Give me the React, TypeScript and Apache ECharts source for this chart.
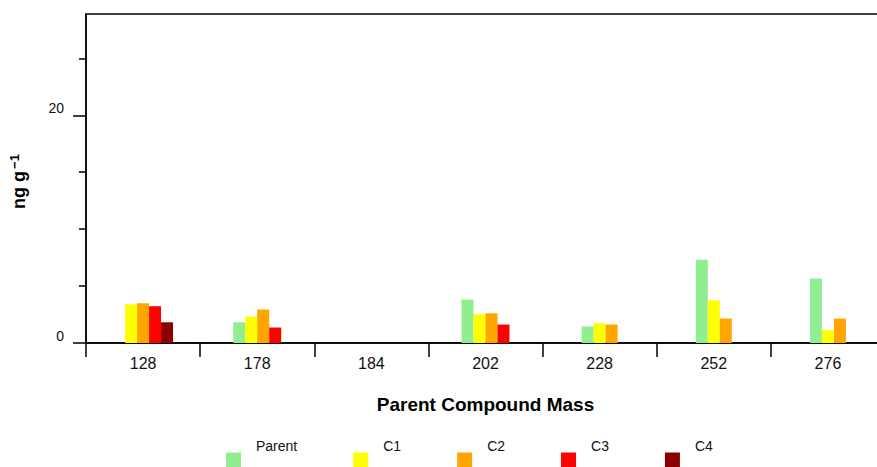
import React, { useEffect, useRef } from "react";
import * as echarts from "echarts";

const categories = ["128", "178", "184", "202", "228", "252", "276"];
const seriesNames = ["Parent", "C1", "C2", "C3", "C4"];
const parentValues = [0, 1.82, null, 3.82, 1.45, 7.32, 5.66];
const c1Values = [3.4, 2.32, null, 2.53, 1.74, 3.75, 1.12];
const c2Values = [3.49, 2.94, null, 2.61, 1.62, 2.15, 2.15];
const c3Values = [3.23, 1.36, null, 1.62, null, null, null];
const c4Values = [1.82, null, null, null, null, null, null];
const colors = ["#90ee90", "#ffff00", "#ffa500", "#ff0000", "#8b0000"];
const majorTicks = [0, 20];
const minorTicks = [5, 10, 15, 25];

const FONT = "Liberation Sans, Arial, Helvetica, sans-serif";

export default function App() {
  const ref = useRef<HTMLDivElement>(null);
  useEffect(() => {
    if (!ref.current) return;
    const chart = echarts.init(ref.current, undefined, { renderer: "svg" });
    const all = [parentValues, c1Values, c2Values, c3Values, c4Values];
    const counts = categories.map((_, ci) => all.filter((s) => s[ci] !== null).length);
    const series = all.map((vals, si) => ({
      type: "custom",
      name: seriesNames[si],
      itemStyle: { color: colors[si] },
      encode: { x: 0, y: 1 },
      data: vals
        .map((v, ci) => {
          if (v === null) return null;
          const slot = all.slice(0, si).filter((s) => s[ci] !== null).length;
          return [ci, v, slot, counts[ci]];
        })
        .filter((d) => d !== null),
      renderItem: (params: any, api: any) => {
        const cat = api.value(0);
        const val = api.value(1);
        const slot = api.value(2);
        const n = api.value(3);
        const top = api.coord([cat, val]);
        const base = api.coord([cat, 0]);
        const bw = api.size([1, 0])[0] * 0.105;
        const x = base[0] - (n * bw) / 2 + slot * bw;
        return {
          type: "rect",
          shape: { x, y: top[1], width: bw, height: base[1] - top[1] },
          style: api.style(),
        };
      },
    }));
    chart.setOption({
      animation: false,
      backgroundColor: "#fff",
      textStyle: { fontFamily: FONT },
      grid: {
        left: 85,
        top: 14,
        width: 800,
        height: 329,
        show: true,
        borderColor: "#000",
        borderWidth: 1.5,
      },
      legend: {
        data: seriesNames,
        icon: "rect",
        left: 226,
        top: 432,
        padding: 0,
        itemWidth: 15,
        itemHeight: 15,
        itemGap: 56,
        formatter: (name: string) => name + "\n ",
        textStyle: {
          fontFamily: FONT,
          fontSize: 14,
          lineHeight: 28,
          color: "#111",
          padding: [0, 0, 0, 10],
        },
      },
      xAxis: {
        type: "category",
        data: categories,
        boundaryGap: true,
        name: "Parent Compound Mass",
        nameLocation: "middle",
        nameGap: 52,
        nameTextStyle: { fontFamily: FONT, fontSize: 19, fontWeight: "bold", color: "#000" },
        axisLine: { show: true, lineStyle: { color: "#000", width: 1.5 } },
        axisTick: { show: true, length: 14, alignWithLabel: false, lineStyle: { color: "#000", width: 1.5 } },
        axisLabel: { fontFamily: FONT, fontSize: 16, color: "#111", margin: 12 },
        splitLine: { show: false },
      },
      yAxis: [
        {
          type: "value",
          min: 0,
          max: 28.9,
          name: "ng g{sup|\u22121}",
          nameLocation: "middle",
          nameGap: 56,
          nameTextStyle: {
            fontFamily: FONT,
            fontSize: 18,
            fontWeight: "bold",
            color: "#000",
            padding: [0, 6, 0, 0],
            rich: {
              sup: { fontFamily: FONT, fontSize: 13, fontWeight: "bold", color: "#000", padding: [0, 0, 9, 2] },
            },
          },
          axisLine: { show: true, lineStyle: { color: "#000", width: 1.5 } },
          axisTick: { show: true, length: 13, customValues: majorTicks, lineStyle: { color: "#000", width: 1.5 } },
          axisLabel: { fontFamily: FONT, fontSize: 14, color: "#111", margin: 22, customValues: majorTicks, verticalAlign: "bottom" },
          splitLine: { show: false },
        },
        {
          type: "value",
          min: 0,
          max: 28.9,
          position: "left",
          axisLine: { show: false },
          axisTick: { show: true, length: 7, customValues: minorTicks, lineStyle: { color: "#000", width: 1.5 } },
          axisLabel: { show: false },
          splitLine: { show: false },
        },
      ],
      series,
    });
    return () => chart.dispose();
  }, []);
  return (
    <div style={{ position: "fixed", left: 0, top: 0, width: 877, height: 467, overflow: "hidden", background: "#fff" }}>
      <div ref={ref} style={{ position: "absolute", left: 0, top: 0, width: 900, height: 467 }} />
    </div>
  );
}
